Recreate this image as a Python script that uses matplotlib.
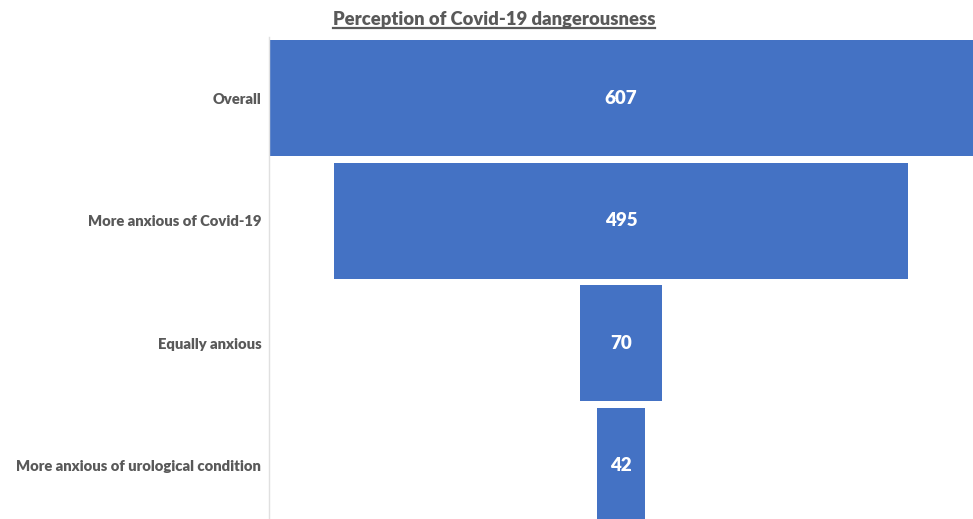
import matplotlib.pyplot as plt
from matplotlib.lines import Line2D

categories = ["Overall", "More anxious of Covid-19", "Equally anxious",
              "More anxious of urological condition"]
counts = [607, 495, 70, 42]

plt.rcParams["font.family"] = ["Lato", "DejaVu Sans"]

fig = plt.figure(figsize=(9.73, 5.19), dpi=100)
ax = fig.add_axes([269 / 973, 0, 1 - 269 / 973, 482 / 519])

bar_col = "#4472C4"
txt_col = "#595959"

# funnel: bars centered on zero
lefts = [-c / 2 for c in counts]
ax.barh(range(len(counts)), counts, left=lefts, height=0.947, color=bar_col)

for i, c in enumerate(counts):
    ax.text(0, i, str(c), ha="center", va="center", color="white",
            fontsize=13.5, fontweight="heavy")

ax.set_xlim(-counts[0] / 2, counts[0] / 2)
ax.set_ylim(3.437, -0.5)
ax.set_yticks(range(len(categories)))
ax.set_yticklabels(categories, fontsize=10.65, fontweight="heavy", color=txt_col)
ax.tick_params(axis="y", length=0, pad=5.5)
ax.set_xticks([])
for s in ["top", "right", "bottom"]:
    ax.spines[s].set_visible(False)
ax.spines["left"].set_color("#e0e0e0")
ax.spines["left"].set_linewidth(1)

title = fig.text(494 / 973, 1 - 19 / 519, "Perception of Covid-19 dangerousness",
                 ha="center", va="center", fontsize=13.25, fontweight="heavy",
                 color=txt_col)

# underline the title
fig.canvas.draw()
bb = title.get_window_extent().transformed(fig.transFigure.inverted())
uy = bb.y0 - 0.001
fig.add_artist(Line2D([bb.x0, bb.x1], [uy, uy], transform=fig.transFigure,
                      color=txt_col, lw=1.6))

fig.savefig("out.png", dpi=100)
